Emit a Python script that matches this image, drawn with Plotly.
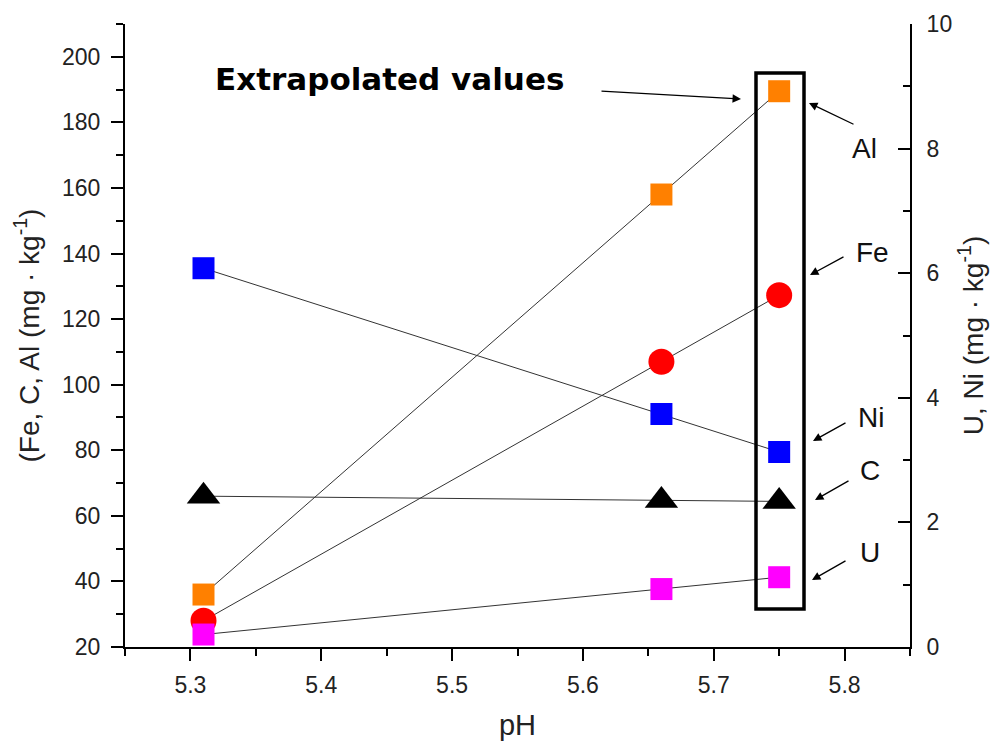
import plotly.graph_objects as go

ph = [5.31, 5.66, 5.75]
al = [36.0, 158.0, 189.5]
fe = [28.0, 107.0, 127.3]
c = [66.0, 64.7, 64.4]
ni = [6.08, 3.74, 3.13]
u = [0.20, 0.93, 1.12]

FONT = "Liberation Sans, Arial, sans-serif"
LINE = dict(color="#333333", width=1)

fig = go.Figure()
fig.add_trace(go.Scatter(x=ph, y=al, mode="lines+markers", name="Al", line=LINE,
                         marker=dict(symbol="square", size=22, color="#FF8000")))
fig.add_trace(go.Scatter(x=ph, y=fe, mode="lines+markers", name="Fe", line=LINE,
                         marker=dict(symbol="circle", size=26, color="#FF0000")))
fig.add_trace(go.Scatter(x=ph, y=c, mode="lines+markers", name="C", line=LINE,
                         marker=dict(symbol="triangle-up", size=29, color="#000000")))
fig.add_trace(go.Scatter(x=ph, y=ni, mode="lines+markers", name="Ni", line=LINE, yaxis="y2",
                         marker=dict(symbol="square", size=22, color="#0000FF")))
fig.add_trace(go.Scatter(x=ph, y=u, mode="lines+markers", name="U", line=LINE, yaxis="y2",
                         marker=dict(symbol="square", size=22, color="#FF00FF")))

# pixel -> data helpers for annotation placement (layout only)
X0, X1, XR = 125, 910, (5.25, 5.85)
Y0, Y1, YR = 647, 24, (20, 210)
def dx(px):
    return XR[0] + (px - X0) / (X1 - X0) * (XR[1] - XR[0])
def dy(py):
    return YR[0] + (Y0 - py) / (Y0 - Y1) * (YR[1] - YR[0])

def axis(ticks, minor_dtick, **kw):
    d = dict(showline=True, linecolor="black", linewidth=2, ticks=ticks, automargin=False,
             ticklen=12, tickwidth=2, tickcolor="black", showgrid=False, zeroline=False,
             tickfont=dict(family=FONT, size=23, color="#222"),
             minor=dict(dtick=minor_dtick, ticks=ticks, ticklen=7, tickwidth=2, tickcolor="black"))
    d.update(kw)
    return d

YTFONT = dict(size=28, family=FONT, color="#222")
XTFONT = dict(size=29, family=FONT, color="#222")
fig.update_layout(
    width=994, height=741,
    margin=dict(l=125, r=84, t=24, b=94),
    plot_bgcolor="white", paper_bgcolor="white",
    showlegend=False,
    font=dict(family=FONT, color="#222"),
    xaxis=axis("outside", 0.05, range=list(XR), dtick=0.1, tick0=5.3, ticklabelstandoff=4,
               title=dict(text="pH", font=XTFONT, standoff=18)),
    yaxis=axis("outside", 10, range=list(YR), dtick=20, tick0=20, ticklabelstandoff=6,
               title=dict(text="(Fe, C, Al (mg · kg<sup>-1</sup>)", font=YTFONT, standoff=14)),
    yaxis2=axis("inside", 1, range=[0, 10], dtick=2, tick0=0, overlaying="y", side="right",
                ticklabelstandoff=10,
                title=dict(text="U, Ni (mg · kg<sup>-1</sup>)", font=YTFONT, standoff=12)),
)

# rectangle around extrapolated values
fig.add_shape(type="rect", xref="x", yref="y", x0=dx(756), x1=dx(804), y0=dy(609), y1=dy(73),
              line=dict(color="black", width=3.5))

fig.add_annotation(x=dx(213), y=dy(79), xref="x", yref="y", text="<b>Extrapolated values</b>",
                   showarrow=False, xanchor="left", yanchor="middle",
                   font=dict(family="DejaVu Sans", size=31, color="black"))

arrows = [
    ((600, 91), (741, 99)),
    ((855, 125), (809, 103)),
    ((845, 256), (810, 275)),
    ((847, 422), (813, 441)),
    ((850, 480), (815, 500)),
    ((847, 560), (812, 580)),
]
for (tx, ty), (hx, hy) in arrows:
    fig.add_annotation(x=dx(hx), y=dy(hy), ax=dx(tx), ay=dy(ty), xref="x", yref="y",
                       axref="x", ayref="y", text="", showarrow=True, arrowhead=2,
                       arrowsize=1.3, arrowwidth=1.3, arrowcolor="black")

labels = [("Al", 864, 148), ("Fe", 872, 252), ("Ni", 871, 417), ("C", 870, 470), ("U", 870, 552)]
for t, px, py in labels:
    fig.add_annotation(x=dx(px), y=dy(py), xref="x", yref="y", text=t, showarrow=False,
                       font=dict(family=FONT, size=28, color="#111"))

fig.write_html("out.html")
